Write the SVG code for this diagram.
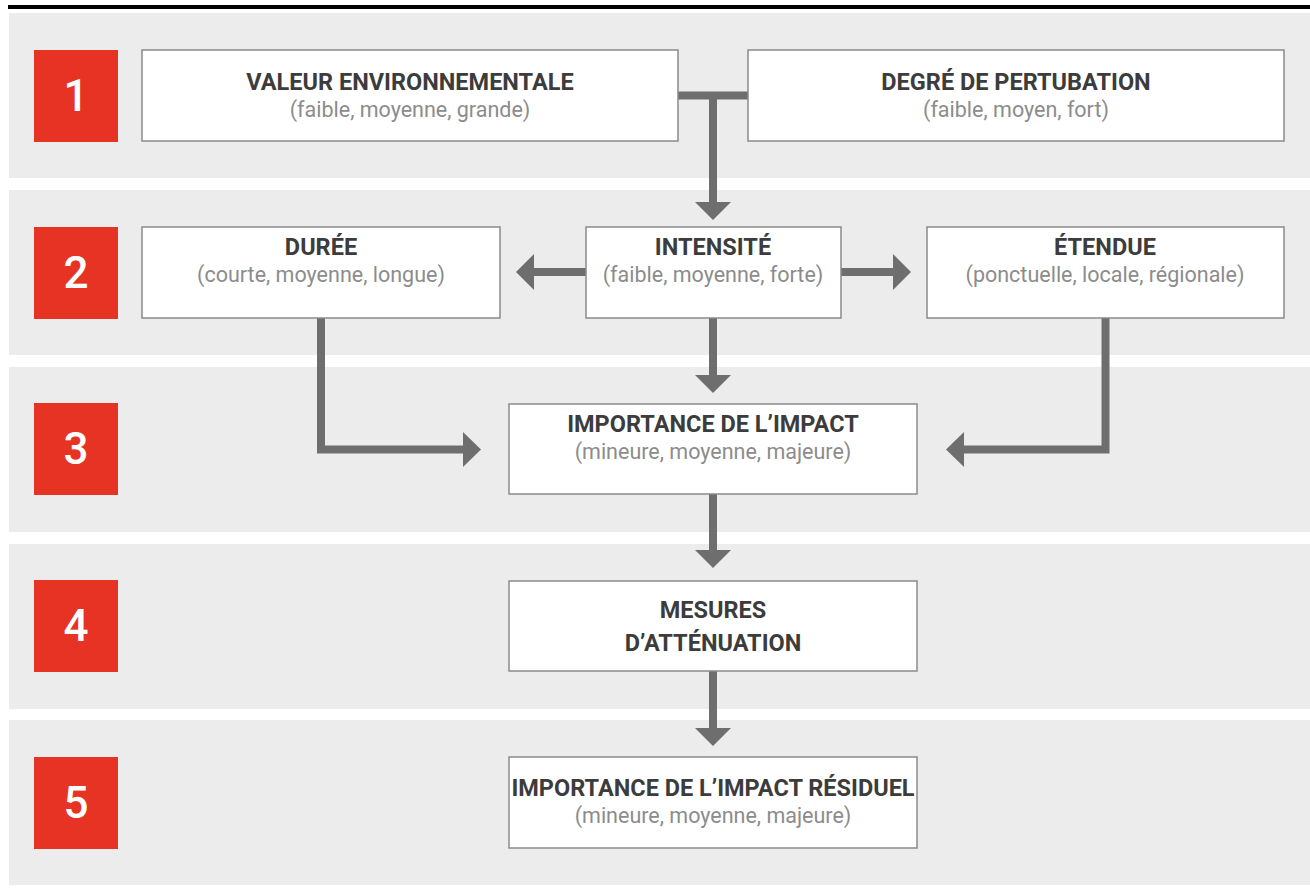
<svg xmlns="http://www.w3.org/2000/svg" width="1310" height="888" viewBox="0 0 1310 888">
<defs>
<style>
.band{fill:#ececec}
.num{fill:#e63323}
.numt{fill:#fff;font-family:Roboto,"Liberation Sans",sans-serif;font-weight:500;font-size:44px;text-anchor:middle}
.box{fill:#fff;stroke:#8a8a8a;stroke-width:1.5}
.t{fill:#3c3c3c;font-family:Roboto,"Liberation Sans",sans-serif;font-weight:700;font-size:23.5px;text-anchor:middle}
.s{fill:#8c8c8c;font-family:Roboto,"Liberation Sans",sans-serif;font-size:21.5px;text-anchor:middle}
.ln{fill:none;stroke:#6e6e6e;stroke-width:8}
.hd{fill:#6e6e6e}
</style>
</defs>
<rect x="0" y="0" width="1310" height="888" fill="#fff"/>
<rect x="8" y="5" width="1302" height="4" fill="#000"/>
<g id="bands">
<rect class="band" x="9" y="13" width="1301" height="165"/>
<rect class="band" x="9" y="190" width="1301" height="165"/>
<rect class="band" x="9" y="367" width="1301" height="165"/>
<rect class="band" x="9" y="544" width="1301" height="165"/>
<rect class="band" x="9" y="720" width="1301" height="165"/>
</g>
<g id="step1"><rect class="num" x="34" y="50" width="84" height="92"/><text class="numt" x="76" y="111">1</text></g>
<g id="step2"><rect class="num" x="34" y="227" width="84" height="92"/><text class="numt" x="76" y="288">2</text></g>
<g id="step3"><rect class="num" x="34" y="403" width="84" height="92"/><text class="numt" x="76" y="464">3</text></g>
<g id="step4"><rect class="num" x="34" y="580" width="84" height="92"/><text class="numt" x="76" y="641">4</text></g>
<g id="step5"><rect class="num" x="34" y="757" width="84" height="92"/><text class="numt" x="76" y="818">5</text></g>
<g id="connectors">
<path class="ln" d="M678 95.5H748M713 95.5V204"/>
<polygon class="hd" points="695,202 731,202 713,220"/>
<path class="ln" d="M586 272H532"/>
<polygon class="hd" points="534,254 534,290 516,272"/>
<path class="ln" d="M841 272H895"/>
<polygon class="hd" points="893,254 893,290 911,272"/>
<path class="ln" d="M713 318V377"/>
<polygon class="hd" points="695,375 731,375 713,393"/>
<path class="ln" d="M321 318V449.5H465"/>
<polygon class="hd" points="463,432 463,467 481,449.5"/>
<path class="ln" d="M1105.5 318V449.5H962"/>
<polygon class="hd" points="964,432 964,467 946,449.5"/>
<path class="ln" d="M713 494V552"/>
<polygon class="hd" points="695,550 731,550 713,568"/>
<path class="ln" d="M713 671V730"/>
<polygon class="hd" points="695,728 731,728 713,746"/>
</g>
<g id="valeur"><rect class="box" x="142" y="50" width="536" height="91"/><text class="t" x="410" y="90">VALEUR ENVIRONNEMENTALE</text><text class="s" x="410" y="117">(faible, moyenne, grande)</text></g>
<g id="degre"><rect class="box" x="748" y="50" width="536" height="91"/><text class="t" x="1016" y="90">DEGRÉ DE PERTUBATION</text><text class="s" x="1016" y="117">(faible, moyen, fort)</text></g>
<g id="duree"><rect class="box" x="142" y="227" width="358" height="91"/><text class="t" x="321" y="255">DURÉE</text><text class="s" x="321" y="282">(courte, moyenne, longue)</text></g>
<g id="intensite"><rect class="box" x="586" y="227" width="255" height="91"/><text class="t" x="713" y="255">INTENSITÉ</text><text class="s" x="713" y="282">(faible, moyenne, forte)</text></g>
<g id="etendue"><rect class="box" x="927" y="227" width="357" height="91"/><text class="t" x="1105" y="255">ÉTENDUE</text><text class="s" x="1105" y="282">(ponctuelle, locale, régionale)</text></g>
<g id="importance"><rect class="box" x="509" y="404" width="408" height="90"/><text class="t" x="713" y="432">IMPORTANCE DE L’IMPACT</text><text class="s" x="713" y="459">(mineure, moyenne, majeure)</text></g>
<g id="mesures"><rect class="box" x="509" y="581" width="408" height="90"/><text class="t" x="713" y="618">MESURES</text><text class="t" x="713" y="651">D’ATTÉNUATION</text></g>
<g id="residuel"><rect class="box" x="509" y="757" width="408" height="91"/><text class="t" x="713" y="796">IMPORTANCE DE L’IMPACT RÉSIDUEL</text><text class="s" x="713" y="823">(mineure, moyenne, majeure)</text></g>
</svg>
